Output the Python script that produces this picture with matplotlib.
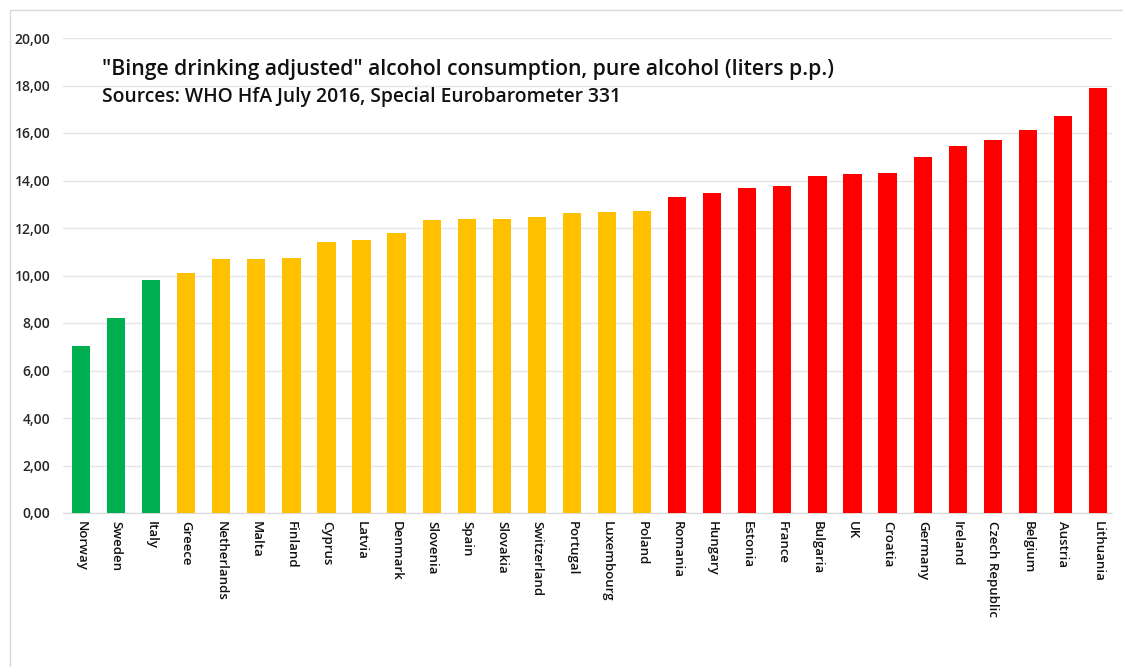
import matplotlib
matplotlib.use("Agg")
import matplotlib.pyplot as plt
from matplotlib.ticker import FuncFormatter, MultipleLocator
from matplotlib.patches import Rectangle

countries = ["Norway", "Sweden", "Italy", "Greece", "Netherlands", "Malta", "Finland",
             "Cyprus", "Latvia", "Denmark", "Slovenia", "Spain", "Slovakia", "Switzerland",
             "Portugal", "Luxembourg", "Poland", "Romania", "Hungary", "Estonia", "France",
             "Bulgaria", "UK", "Croatia", "Germany", "Ireland", "Czech Republic", "Belgium",
             "Austria", "Lithuania"]
values = [7.04, 8.22, 9.81, 10.09, 10.68, 10.68, 10.75, 11.40, 11.49, 11.78, 12.32, 12.39,
          12.39, 12.48, 12.64, 12.67, 12.72, 13.32, 13.46, 13.68, 13.78, 14.18, 14.27, 14.32,
          14.99, 15.45, 15.71, 16.11, 16.72, 17.89]
groups = ["low"] * 3 + ["mid"] * 14 + ["high"] * 13
group_colors = {"low": "#00B050", "mid": "#FFC000", "high": "#FF0000"}

title = "\"Binge drinking adjusted\" alcohol consumption, pure alcohol (liters p.p.)"
subtitle = "Sources: WHO HfA July 2016, Special Eurobarometer 331"

plt.rcParams['font.family'] = ['Open Sans', 'DejaVu Sans']

fig = plt.figure(figsize=(11.23, 6.67), dpi=100)
fig.patches.append(Rectangle((10 / 1123, -0.1), 1.2, 1 - 10 / 667 + 0.1,
                             transform=fig.transFigure, fill=False,
                             edgecolor="#d9d9d9", linewidth=1))
ax = fig.add_axes([63 / 1123, 1 - 513 / 667, (1112 - 63) / 1123, (513 - 38) / 667])

x = range(len(countries))
ax.bar(x, values, width=0.52, color=[group_colors[g] for g in groups], zorder=3)

ax.set_ylim(0, 20)
ax.set_xlim(-0.513, len(countries) - 0.6)
ax.yaxis.set_major_locator(MultipleLocator(2))
ax.yaxis.set_major_formatter(FuncFormatter(lambda v, p: f"{v:.2f}".replace(".", ",")))
ax.grid(axis="y", color="#e6e6e6", linewidth=1, zorder=0)
for s in ["top", "right", "left"]:
    ax.spines[s].set_visible(False)
ax.spines["bottom"].set_color("#d9d9d9")
ax.tick_params(axis="both", length=0)
ax.tick_params(axis="y", labelsize=10, pad=9, labelcolor="#262626")
ax.set_xticks(list(x))
ax.set_xticklabels(countries, rotation=270, fontsize=9.5, color="#111111",
                   fontweight="semibold")
ax.tick_params(axis="x", pad=6)
for lbl in ax.get_yticklabels():
    lbl.set_fontweight("semibold")

fig.text(102 / 1123, 1 - 70 / 667, title, fontsize=15.2, fontweight="semibold",
         color="#111111", va="center", ha="left")
fig.text(102 / 1123, 1 - 97 / 667, subtitle, fontsize=13.85, fontweight="semibold",
         color="#111111", va="center", ha="left")

fig.savefig("out.png", dpi=100, facecolor="white")
